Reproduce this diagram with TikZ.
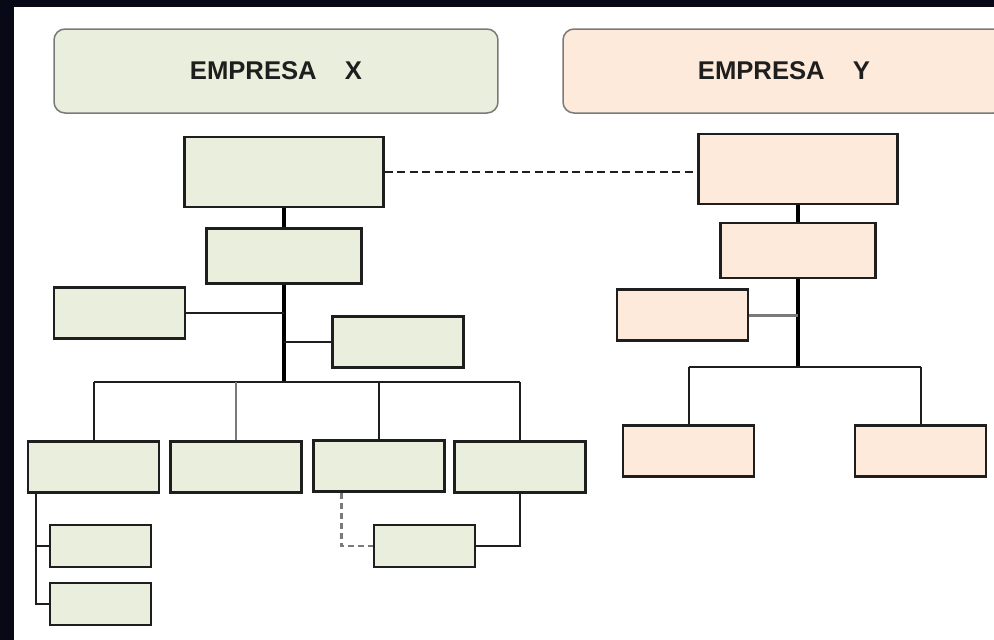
\documentclass[tikz,border=0pt]{standalone}
\usepackage{fontspec}
\setsansfont{Liberation Sans}
\usepackage{tikz}
\usetikzlibrary{positioning}
\definecolor{olive1}{HTML}{EAEEDC}
\definecolor{peach1}{HTML}{FDEADB}
\definecolor{gray1}{HTML}{7A7A7A}
\definecolor{navy1}{HTML}{070A16}
\definecolor{ink1}{HTML}{1E1E1E}

\begin{document}
\begin{tikzpicture}[
    x=0.1mm, y=-0.1mm,
    head/.style={draw=gray1, rounded corners=1.1mm, line width=0.15mm,
                 minimum height=8.4mm, inner sep=0pt, text=ink1,
                 font=\sffamily\bfseries\fontsize{7.3}{8.5}\selectfont},
    unit/.style={draw=ink1, line width=0.22mm, inner sep=0pt},
    bigbox/.style={unit, minimum width=19.9mm, minimum height=7mm},
    midbox/.style={unit, minimum width=15.5mm, minimum height=5.5mm},
    smallbox/.style={unit, minimum width=13.1mm, minimum height=5.1mm},
    subbox/.style={unit, minimum width=10.1mm, minimum height=4.2mm},
    link/.style={draw=ink1, line width=0.2mm},
    trunk/.style={draw=black, line width=0.38mm},
    faint/.style={draw=gray1, line width=0.25mm},
]
\fill[navy1] (0,0) rectangle (994,640);
\fill[white] (14,7) rectangle (994,640);
\clip (0,0) rectangle (994,640);

% company headers
\node[head, fill=olive1, minimum width=44.4mm] (hx) at (276,71)
    {EMPRESA\hspace{1.1em}X};
\node[head, fill=peach1, minimum width=44.2mm] (hy) at (784,71)
    {EMPRESA\hspace{1.1em}Y};

% empresa X
\node[bigbox, fill=olive1] (x1) at (284,172) {};
\node[midbox, fill=olive1] (x2) at (284,256) {};
\node[smallbox, fill=olive1] (x3) at (119.5,313) {};
\node[smallbox, fill=olive1] (x4) at (398,342) {};
\node[smallbox, fill=olive1] (b1) at (93.5,467) {};
\node[smallbox, fill=olive1] (b2) at (236,467) {};
\node[smallbox, fill=olive1] (b3) at (379,466) {};
\node[smallbox, fill=olive1] (b4) at (520,467) {};
\node[subbox, fill=olive1] (s1) at (100.5,546) {};
\node[subbox, fill=olive1] (s2) at (100.5,604) {};
\node[subbox, fill=olive1] (s3) at (424.5,546) {};
\coordinate (busx) at (284,382);

% empresa Y
\node[bigbox, fill=peach1] (y1) at (798,169) {};
\node[midbox, fill=peach1] (y2) at (798,250.5) {};
\node[smallbox, fill=peach1] (y3) at (682.5,315) {};
\node[smallbox, fill=peach1] (y4) at (688.5,451) {};
\node[smallbox, fill=peach1] (y5) at (920.5,451) {};
\coordinate (busy) at (798,367);

% connectors X
\draw[trunk] (x1.south) -- (x2.north);
\draw[trunk] (x2.south) -- (busx);
\draw[link] (x3.east) -- (x3.east -| busx);
\draw[link] (x4.west) -- (x4.west -| busx);
\draw[link] (b1.north |- busx) -- (b4.north |- busx);
\draw[link] (b1.north) -- (b1.north |- busx);
\draw[faint] (b2.north) -- (b2.north |- busx);
\draw[link] (b3.north) -- (b3.north |- busx);
\draw[link] (b4.north) -- (b4.north |- busx);
\draw[link] ([xshift=0.9mm]b1.south west) |- (s1.west);
\draw[link] ([xshift=0.9mm]b1.south west) |- (s2.west);
\draw[faint, dash pattern=on 0.6mm off 0.4mm]
    ([xshift=2.9mm]b3.south west) |- (s3.west);
\draw[link] (s3.east) -| (b4.south);

% connectors Y
\draw[link, dash pattern=on 0.8mm off 0.45mm] (x1.east) -- (x1.east -| y1.west);
\draw[trunk] (y1.south) -- (y2.north);
\draw[trunk] (y2.south) -- (busy);
\draw[faint, line width=0.3mm] (y3.east) -- (y3.east -| busy);
\draw[link] (y4.north |- busy) -- (y5.north |- busy);
\draw[link] (y4.north) -- (y4.north |- busy);
\draw[link] (y5.north) -- (y5.north |- busy);
\end{tikzpicture}
\end{document}
